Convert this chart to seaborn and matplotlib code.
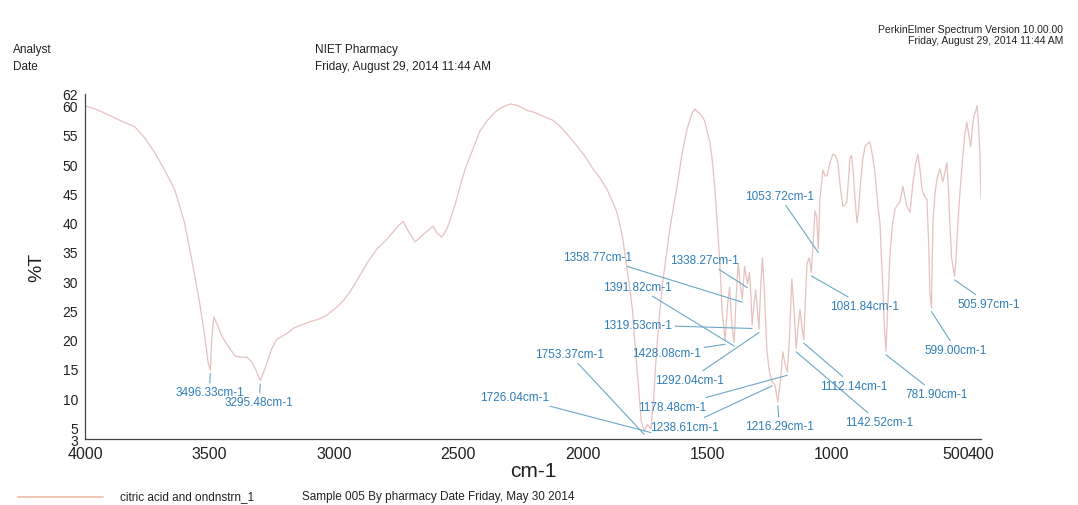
import pandas as pd
import seaborn as sns
import matplotlib.pyplot as plt

# spectrum (cm-1, %T)
wavenumber = [
    4000, 3950, 3900, 3850, 3800, 3760, 3720, 3680, 3640, 3600, 3570, 3540, 3520, 3505,
    3496.33, 3490, 3482, 3466, 3450, 3425, 3397, 3377, 3350, 3330, 3310, 3295.48, 3277,
    3250, 3230, 3190, 3160, 3100, 3060, 3028, 2990, 2963, 2930, 2895, 2860, 2827, 2790,
    2762, 2740, 2722, 2700, 2674, 2650, 2626, 2602, 2585, 2566, 2545, 2534, 2510, 2493,
    2470, 2441, 2415, 2385, 2350, 2320, 2290, 2260, 2224, 2190, 2160, 2120, 2092, 2060,
    2023, 1990, 1959, 1930, 1903, 1880, 1863, 1850, 1839, 1825, 1812, 1800, 1790, 1775,
    1765, 1753.37, 1740, 1726.04, 1715, 1705, 1690, 1678, 1650, 1622, 1600, 1581, 1560,
    1549, 1540, 1529, 1515, 1509, 1500, 1489, 1478, 1469, 1460, 1449, 1440, 1428.08,
    1418, 1410, 1400, 1391.82, 1383, 1375, 1366, 1358.77, 1350, 1344, 1338.27, 1330,
    1325, 1319.53, 1312, 1305, 1298, 1292.04, 1284, 1278, 1270, 1260, 1250, 1238.61,
    1228, 1216.29, 1205, 1196, 1188, 1178.48, 1170, 1160, 1148, 1142.52, 1135, 1127,
    1119, 1112.14, 1105, 1099, 1090, 1081.84, 1075, 1067, 1060, 1053.72, 1047, 1035,
    1027, 1019, 1005, 995, 985, 975, 965, 955, 947, 939, 933, 927, 920, 914, 906, 898,
    892, 886, 876, 866, 856, 846, 836, 826, 814, 806, 800, 794, 788, 781.9, 776, 766,
    756, 746, 736, 726, 714, 706, 698, 685, 673, 663, 653, 645, 637, 627, 617, 610, 605,
    599, 593, 585, 577, 565, 553, 545, 537, 531, 525, 518, 505.97, 500, 493, 483, 473,
    465, 457, 449, 441, 435, 429, 422, 416, 410, 404, 400,
]
transmittance = [
    60, 59.3, 58.3, 57.3, 56.4, 54.5, 52, 49, 45.7, 40, 33.5, 26.5, 21, 16,
    14.8, 20.5, 23.9, 22.3, 20.6, 18.9, 17.2, 17, 17, 16.2, 14.5, 13.0, 15,
    18.4, 20, 21, 22, 23, 23.5, 24.2, 25.5, 26.6, 28.5, 31, 33.5, 35.5, 37,
    38.4, 39.5, 40.2, 38.5, 36.7, 37.6, 38.5, 39.4, 38.2, 37.5, 39, 40.3, 43.5, 46.2,
    49.5, 52.6, 55.5, 57.4, 59, 59.8, 60.3, 60, 59.2, 58.8, 58.2, 57.5, 56.5, 55,
    53.1, 51.3, 49.2, 47.6, 45.7, 43.6, 41.8, 39.5, 37.2, 33, 29, 25, 19, 11.5,
    6, 4.4, 5.5, 4.7, 10, 17.2, 25, 30, 39, 46, 52, 56, 58.8,
    59.4, 59, 58.6, 57.8, 57.2, 55.5, 53.8, 50, 45.7, 40, 33, 25, 19.8,
    26, 29, 22, 19.5, 28, 33, 29, 27, 32.5, 31, 29.5, 31.5,
    28, 22.5, 26, 28.5, 25, 21.8, 30, 34, 28, 18, 14.5, 12.7,
    12.3, 9.3, 13.3, 17.9, 16, 14.5, 19.6, 30.4, 23, 18.5, 22, 25.2,
    22, 20, 27, 33, 34, 31.5, 36, 42, 41, 35.5, 44, 49,
    48, 48, 50.5, 51.7, 51.5, 50.3, 46, 42.8, 43, 43.5, 47, 50.9, 51.5, 49, 44, 40,
    42, 45.7, 50.5, 53, 53.5, 53.8, 51.5, 48.6, 42.8, 40, 34, 28.6, 22, 18, 24, 34.3,
    39.5, 42.3, 43, 43.5, 46.2, 44.5, 42.8, 41.8, 46.9, 50, 51.7, 49, 45.7, 44.5, 44, 36, 28,
    25.4, 40, 45, 47.4, 49.2, 47, 48.5, 50.3, 46, 40, 34, 30.8, 34, 40, 46, 51.4,
    55, 57.2, 55, 53, 56, 58.2, 59, 60, 57, 51.4, 44,
]

# labelled peaks and where their labels sit (data coords, left edge / middle)
peak_cm = [3496.33, 3295.48, 1753.37, 1726.04, 1428.08, 1391.82, 1358.77, 1338.27,
           1319.53, 1292.04, 1238.61, 1216.29, 1178.48, 1142.52, 1112.14, 1081.84,
           1053.72, 781.90, 599.00, 505.97]
peak_t = [14.8, 13.0, 4.4, 4.7, 19.8, 19.5, 27, 29.5, 22.5, 21.8, 12.7, 9.3, 14.5,
          18.5, 20, 31.5, 35.5, 18, 25.4, 30.8]
label_x = [3638, 3438, 2192, 2413, 1802, 1919, 2080, 1650, 1919, 1710, 1730, 1348,
           1778, 947, 1047, 1007, 1348, 705, 625, 493]
label_y = [11.0, 9.3, 17.5, 10.2, 17.7, 29.0, 34.1, 33.6, 22.5, 13.1, 5.1, 5.2,
           8.5, 5.9, 12.1, 25.7, 44.5, 10.7, 18.2, 26.1]

x_ticks = [4000, 3500, 3000, 2500, 2000, 1500, 1000, 500, 400]
y_ticks = [3, 5, 10, 15, 20, 25, 30, 35, 40, 45, 50, 55, 60, 62]

df = pd.DataFrame({'cm-1': wavenumber, '%T': transmittance})

sns.set_style('white')
plt.rcParams['font.family'] = ['Liberation Sans', 'DejaVu Sans']

fig = plt.figure(figsize=(10.78, 5.06), dpi=100)
ax = fig.add_axes([0.0788, 0.1304, 0.8312, 0.6819])

sns.lineplot(data=df, x='cm-1', y='%T', ax=ax, color='#e6c2bf', lw=0.9,
             sort=False, legend=False)

for wn, t, lx, ly in zip(peak_cm, peak_t, label_x, label_y):
    ax.annotate(f'{wn:.2f}cm-1', xy=(wn, t - 0.6), xytext=(lx, ly),
                ha='left', va='center', fontsize=8.5, color='#2f7db8',
                arrowprops=dict(arrowstyle='-', color='#6ca8c4', lw=0.8,
                                shrinkA=0, shrinkB=0))

ax.set_xlim(4000, 400)
ax.set_ylim(3, 62)
ax.set_xticks(x_ticks)
ax.set_yticks(y_ticks)
ax.tick_params(axis='both', direction='out', length=4, width=0.8,
               color='#444444', labelcolor='#222222', pad=1)
ax.tick_params(axis='x', labelsize=11.5)
ax.tick_params(axis='y', labelsize=10)
sns.despine(ax=ax)
for side in ['left', 'bottom']:
    ax.spines[side].set_color('#444444')
    ax.spines[side].set_linewidth(0.9)
ax.set_xlabel('cm-1', fontsize=15, color='#222222', labelpad=0)
ax.set_ylabel('%T', fontsize=14, color='#222222', labelpad=12)

# header
fig.text(13 / 1078, 1 - 50 / 506, 'Analyst', fontsize=8.5, va='center', color='#222222')
fig.text(13 / 1078, 1 - 67 / 506, 'Date', fontsize=8.5, va='center', color='#222222')
fig.text(315 / 1078, 1 - 50 / 506, 'NIET Pharmacy', fontsize=8.5, va='center', color='#222222')
fig.text(315 / 1078, 1 - 67 / 506, 'Friday, August 29, 2014 11:44 AM', fontsize=8.5,
         va='center', color='#222222')
fig.text(1063 / 1078, 1 - 30 / 506, 'PerkinElmer Spectrum Version 10.00.00', fontsize=7.5,
         ha='right', va='center', color='#222222')
fig.text(1063 / 1078, 1 - 41 / 506, 'Friday, August 29, 2014 11:44 AM', fontsize=7.5,
         ha='right', va='center', color='#222222')

# legend row at the bottom
fig.add_artist(plt.Line2D([18 / 1078, 103 / 1078], [1 - 498 / 506, 1 - 498 / 506],
                          color='#f0bba5', lw=1.2))
fig.text(120 / 1078, 1 - 497 / 506, 'citric acid and ondnstrn_1', fontsize=8.5,
         va='center', color='#222222')
fig.text(302 / 1078, 1 - 497 / 506, 'Sample 005 By pharmacy Date Friday, May 30 2014',
         fontsize=8.5, va='center', color='#222222')

fig.savefig('out.png', dpi=100)
